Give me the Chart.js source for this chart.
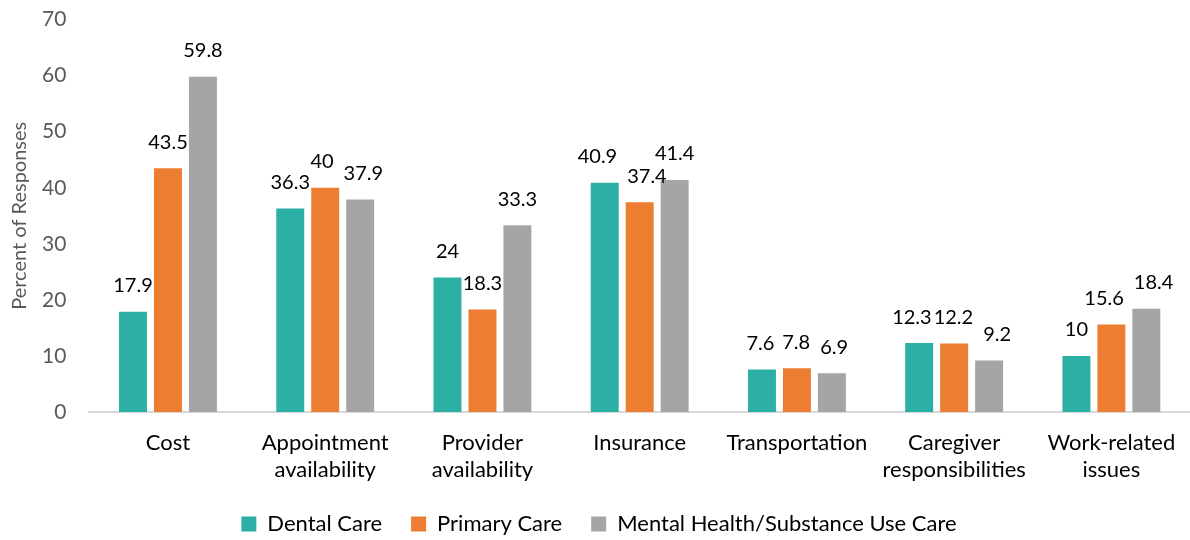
<!DOCTYPE html>
<html>
<head>
<meta charset="utf-8">
<script src="https://cdn.jsdelivr.net/npm/chart.js@4"></script>
<style>
  html, body { margin: 0; padding: 0; background: #fff; }
  #wrap { width: 1190px; height: 540px; }
</style>
</head>
<body>
<div id="wrap"><canvas id="grafica" width="1190" height="540"></canvas></div>
<script>
const categorias = [
  'Cost',
  ['Appointment', 'availability'],
  ['Provider', 'availability'],
  'Insurance',
  'Transportation',
  ['Caregiver', 'responsibilities'],
  ['Work-related', 'issues']
];
const dental = [17.9, 36.3, 24, 40.9, 7.6, 12.3, 10];
const primaria = [43.5, 40, 18.3, 37.4, 7.8, 12.2, 15.6];
const mental = [59.8, 37.9, 33.3, 41.4, 6.9, 9.2, 18.4];
const ticksY = [0, 10, 20, 30, 40, 50, 60, 70];

const fuente = "Lato, 'Open Sans', sans-serif";

// etiquetas encima de cada barra; si dos se pisan se separan un poco
const etiquetas = {
  id: 'etiquetas',
  afterDatasetsDraw(chart) {
    const ctx = chart.ctx;
    ctx.save();
    ctx.font = `20px ${fuente}`;
    ctx.fillStyle = '#000';
    ctx.textAlign = 'center';
    ctx.textBaseline = 'middle';
    const n = chart.data.labels.length;
    for (let j = 0; j < n; j++) {
      const items = chart.data.datasets.map((ds, i) => {
        const bar = chart.getDatasetMeta(i).data[j];
        const txt = String(ds.data[j]);
        return { txt, x: bar.x, y: bar.y - 26, w: ctx.measureText(txt).width };
      });
      for (let k = 0; k < items.length - 1; k++) {
        const a = items[k], b = items[k + 1];
        const solape = (a.x + a.w / 2 + 10) - (b.x - b.w / 2);
        if (solape > 0 && Math.abs(a.y - b.y) < 20) {
          a.x -= solape / 2;
          b.x += solape / 2;
        }
      }
      items.forEach(it => ctx.fillText(it.txt, it.x, it.y));
    }
    ctx.restore();
  }
};

new Chart(document.getElementById('grafica').getContext('2d'), {
  type: 'bar',
  data: {
    labels: categorias,
    datasets: [
      { label: 'Dental Care', data: dental, backgroundColor: '#2CAFA4' },
      { label: 'Primary Care', data: primaria, backgroundColor: '#ED7D31' },
      { label: 'Mental Health/Substance Use Care', data: mental, backgroundColor: '#A5A5A5' }
    ]
  },
  options: {
    responsive: false,
    animation: false,
    layout: { padding: { top: 0, right: 0, left: 8, bottom: -5 } },
    datasets: {
      bar: { categoryPercentage: 0.667, barPercentage: 0.8 }
    },
    scales: {
      x: {
        grid: { display: false, drawTicks: true, tickLength: 17 },
        border: { display: true, color: '#D9D9D9', width: 2 },
        ticks: { color: '#000', font: { family: fuente, size: 22, lineHeight: 1.25 }, padding: 0, maxRotation: 0 }
      },
      y: {
        min: 0,
        max: 70,
        afterBuildTicks: (axis) => { axis.ticks = ticksY.map(v => ({ value: v })); },
        grid: { display: false, drawTicks: true, tickLength: 16 },
        border: { display: false },
        ticks: { color: '#595959', font: { family: fuente, size: 21 }, padding: 7 },
        title: { display: true, text: 'Percent of Responses', color: '#595959', font: { family: fuente, size: 20 }, padding: { top: 0, bottom: 3 } }
      }
    },
    plugins: {
      legend: {
        position: 'bottom',
        labels: {
          color: '#000',
          font: { family: fuente, size: 22 },
          boxWidth: 15,
          boxHeight: 15,
          padding: 29
        }
      },
      tooltip: { enabled: false }
    }
  },
  plugins: [etiquetas]
});
</script>
</body>
</html>
